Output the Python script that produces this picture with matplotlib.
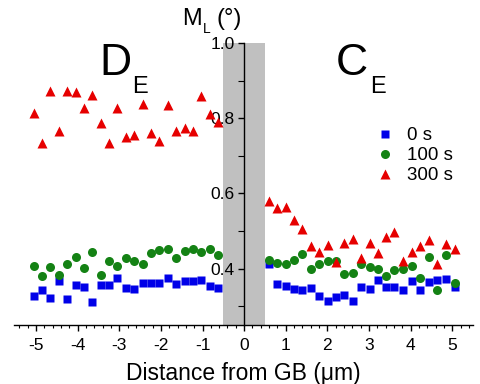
import matplotlib
matplotlib.use("Agg")
import matplotlib.pyplot as plt
from matplotlib.ticker import MultipleLocator, FixedLocator

plt.rcParams['font.family'] = ['Liberation Sans', 'DejaVu Sans']
plt.rcParams['axes.unicode_minus'] = False

# distance from grain boundary (um)
x_left = [-5.06, -4.86, -4.66, -4.46, -4.26, -4.05, -3.85, -3.65, -3.45, -3.25, -3.05, -2.84,
          -2.64, -2.44, -2.24, -2.04, -1.84, -1.63, -1.43, -1.23, -1.03, -0.83, -0.63]
x_right = [0.60, 0.80, 1.01, 1.20, 1.40, 1.60, 1.80, 2.01, 2.21, 2.41, 2.62, 2.82,
           3.02, 3.22, 3.41, 3.61, 3.82, 4.03, 4.23, 4.44, 4.64, 4.85, 5.06]

# M_L values, 0 s
ml_0s = [0.326, 0.343, 0.323, 0.366, 0.318, 0.356, 0.350, 0.312, 0.357, 0.357, 0.375, 0.349,
         0.347, 0.362, 0.362, 0.362, 0.375, 0.358, 0.366, 0.368, 0.371, 0.353, 0.349,
         0.413, 0.359, 0.355, 0.347, 0.342, 0.349, 0.328, 0.313, 0.324, 0.329, 0.315, 0.350,
         0.346, 0.371, 0.351, 0.351, 0.344, 0.366, 0.344, 0.364, 0.371, 0.373, 0.351]
# 100 s
ml_100s = [0.406, 0.381, 0.405, 0.383, 0.411, 0.430, 0.401, 0.445, 0.384, 0.420, 0.406, 0.427,
           0.420, 0.411, 0.441, 0.450, 0.451, 0.428, 0.447, 0.451, 0.445, 0.451, 0.435,
           0.422, 0.415, 0.413, 0.422, 0.439, 0.400, 0.411, 0.419, 0.419, 0.386, 0.389, 0.413,
           0.405, 0.399, 0.381, 0.396, 0.399, 0.406, 0.375, 0.430, 0.344, 0.437, 0.361]
# 300 s
ml_300s = [0.813, 0.734, 0.873, 0.766, 0.873, 0.869, 0.826, 0.862, 0.788, 0.734, 0.828, 0.751,
           0.756, 0.838, 0.760, 0.740, 0.834, 0.766, 0.775, 0.766, 0.859, 0.810, 0.790,
           0.579, 0.561, 0.564, 0.528, 0.505, 0.461, 0.444, 0.462, 0.417, 0.468, 0.479, 0.427,
           0.468, 0.442, 0.484, 0.498, 0.421, 0.443, 0.461, 0.477, 0.413, 0.466, 0.453]

x = x_left + x_right

W, H = 480, 384
fig = plt.figure(figsize=(W / 100, H / 100), dpi=100)
ax = fig.add_axes([14 / W, 59 / H, 459 / W, 282 / H])

# grain boundary region
ax.axvspan(-0.5, 0.5, color='#c0c0c0', lw=0, zorder=0)

ax.plot(x, ml_0s, 's', color='#0000e8', ms=5.5, mec='none', label='0 s', zorder=3)
ax.plot(x, ml_100s, 'o', color='#148214', ms=6.5, mec='none', label='100 s', zorder=3)
ax.plot(x, ml_300s, '^', color='#e60000', ms=7.5, mec='none', label='300 s', zorder=3)

ax.set_xlim(-5.53, 5.5)
ax.set_ylim(0.25, 1.0)

for s in ['top', 'right']:
    ax.spines[s].set_visible(False)
ax.spines['left'].set_position(('data', 0))
ax.spines['left'].set_zorder(4)
ax.spines['left'].set_linewidth(1.0)
ax.spines['bottom'].set_linewidth(1.0)

ax.xaxis.set_major_locator(MultipleLocator(1))
ax.xaxis.set_minor_locator(MultipleLocator(0.2))
ax.yaxis.set_major_locator(FixedLocator([0.4, 0.6, 0.8, 1.0]))
ax.yaxis.set_minor_locator(FixedLocator([0.3, 0.5, 0.7, 0.9]))
ax.yaxis.set_major_formatter(matplotlib.ticker.FormatStrFormatter('%.1f'))
ax.tick_params(axis='both', which='major', length=4, width=1, labelsize=12.5)
ax.tick_params(axis='x', which='major', pad=5)
ax.tick_params(axis='y', which='major', pad=3)
ax.tick_params(axis='both', which='minor', length=2.5, width=0.8)
ax.tick_params(axis='y', which='minor', length=4)

ax.set_xlabel('Distance from GB (\u03bcm)', fontsize=16.5, labelpad=7)

def px(xp, yp):
    return xp / W, 1 - yp / H

fig.text(*px(99, 75), 'D', fontsize=32, ha='left', va='baseline')
fig.text(*px(132, 93), 'E', fontsize=17, ha='left', va='baseline')
fig.text(*px(336, 75), 'C', fontsize=32, ha='left', va='baseline')
fig.text(*px(370, 93), 'E', fontsize=17, ha='left', va='baseline')
fig.text(*px(182, 25), 'M', fontsize=17, ha='left', va='baseline')
fig.text(*px(203, 33), 'L', fontsize=10, ha='left', va='baseline')
fig.text(*px(216, 25), '(\u00b0)', fontsize=17, ha='left', va='baseline')

ax.legend(loc='upper left', bbox_to_anchor=(364 / W, 1 - 118 / H),
          bbox_transform=fig.transFigure, frameon=False, fontsize=13.5,
          handlelength=1.2, handletextpad=0.6, labelspacing=0.15, borderpad=0)

fig.savefig('out.png', dpi=100)
